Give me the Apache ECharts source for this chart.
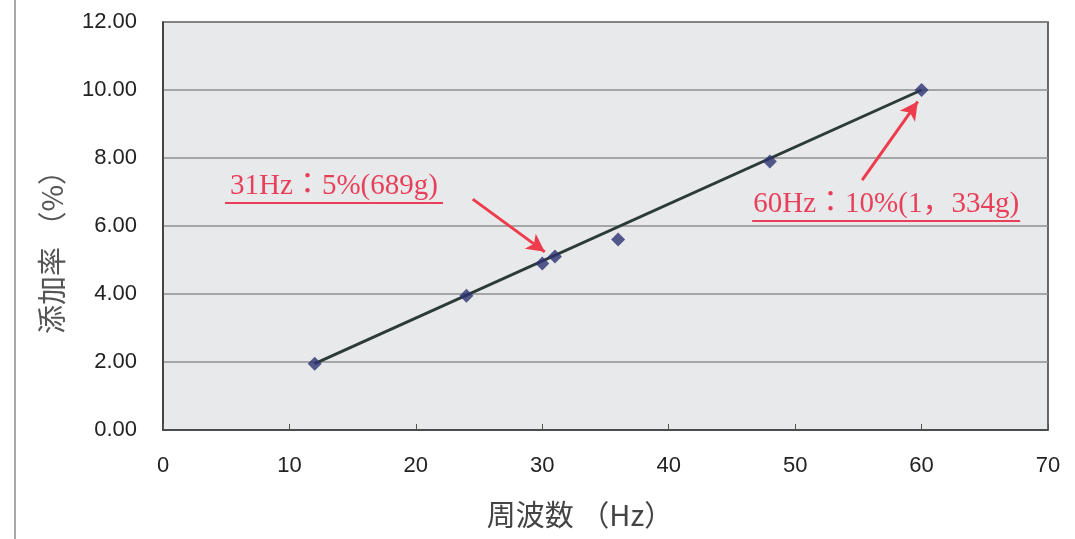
<!DOCTYPE html>
<html>
<head>
<meta charset="utf-8">
<script src="https://cdn.jsdelivr.net/npm/echarts@6/dist/echarts.min.js"></script>
<style>
  html, body { margin: 0; padding: 0; background: #ffffff; }
  #chart { width: 1075px; height: 539px; }
</style>
</head>
<body>
<div id="chart"></div>
<script>
// Measured points: frequency (Hz) vs. additive rate (%)
const freqHz = [12, 24, 30, 31, 36, 48, 60];
const ratePct = [1.95, 3.95, 4.9, 5.1, 5.6, 7.9, 10.0];

// Straight trend line through the measurements
const trendX = [12, 60];
const trendY = [1.95, 10.0];

// Axis ranges and tick steps
const xTicks = [0, 70, 10];
const yTicks = [0, 12, 2];

// Annotation texts, their underline spans and arrows (data coordinates)
const noteTexts = ['31Hz：5%(689g)', '60Hz：10%(1，334g)'];
const noteLines = [[[4.9, 6.68], [22.15, 6.68]], [[46.6, 6.15], [67.8, 6.15]]];
const noteArrows = [[[24.5, 6.79], [30.2, 5.24]], [[55.3, 7.35], [59.7, 9.66]]];

const red = '#e8405a';
const serif = "'Liberation Serif', 'Noto Sans CJK JP', serif";
const sans = "'Liberation Sans', Arial, sans-serif";

const chart = echarts.init(document.getElementById('chart'));

const markData = [];
noteLines.forEach((seg, i) => {
  markData.push([
    { coord: seg[0], label: { show: true, formatter: noteTexts[i] } },
    { coord: seg[1] }
  ]);
});
noteArrows.forEach(seg => {
  markData.push([
    { coord: seg[0], symbol: 'none', label: { show: false }, lineStyle: { width: 3, color: '#ee3c4c' } },
    { coord: seg[1], symbol: 'arrow', symbolSize: [14, 18] }
  ]);
});

chart.setOption({
  animation: false,
  backgroundColor: '#ffffff',
  grid: {
    left: 163, right: 27, top: 22, bottom: 109,
    show: true,
    backgroundColor: '#e7e9eb',
    borderColor: '#3a3a3a',
    borderWidth: 1.5
  },
  xAxis: {
    type: 'value',
    min: xTicks[0], max: xTicks[1], interval: xTicks[2],
    axisLine: { show: true, lineStyle: { color: '#3a3a3a', width: 1.5 } },
    axisTick: { show: true, inside: true, length: 6, lineStyle: { color: '#555' } },
    splitLine: { show: false },
    axisLabel: { color: '#222', fontSize: 22, margin: 25, fontFamily: sans }
  },
  yAxis: {
    type: 'value',
    min: yTicks[0], max: yTicks[1], interval: yTicks[2],
    axisLine: { show: true, lineStyle: { color: '#3a3a3a', width: 1.5 } },
    axisTick: { show: false },
    splitLine: { show: true, lineStyle: { color: '#8c8e90', width: 1.5 } },
    axisLabel: {
      color: '#222', fontSize: 22, margin: 26, fontFamily: sans,
      formatter: v => v.toFixed(2)
    }
  },
  graphic: [
    {
      type: 'line',
      shape: { x1: 15, y1: 0, x2: 15, y2: 539 },
      style: { stroke: '#a8a8a8', lineWidth: 2 }
    },
    {
      type: 'text',
      x: 52, y: 245,
      rotation: Math.PI / 2,
      style: {
        text: '添加率 （%）',
        fill: '#555',
        font: "29px 'Noto Sans CJK JP', sans-serif",
        textAlign: 'center',
        textVerticalAlign: 'middle'
      }
    },
    {
      type: 'text',
      x: 580, y: 515,
      style: {
        text: '周波数 （Hz）',
        fill: '#444',
        font: "29px 'Noto Sans CJK JP', sans-serif",
        textAlign: 'center',
        textVerticalAlign: 'middle'
      }
    }
  ],
  series: [
    {
      type: 'line',
      data: trendX.map((x, i) => [x, trendY[i]]),
      showSymbol: false,
      symbol: 'none',
      lineStyle: { color: '#2c3a38', width: 3 },
      z: 2,
      silent: true,
      markLine: {
        silent: true,
        symbol: 'none',
        lineStyle: { color: red, width: 2, type: 'solid' },
        label: {
          show: false,
          position: 'insideMiddleTop',
          distance: 2,
          color: red,
          fontSize: 29,
          fontFamily: serif
        },
        emphasis: { disabled: true },
        data: markData
      }
    },
    {
      type: 'scatter',
      data: freqHz.map((x, i) => [x, ratePct[i]]),
      symbol: 'diamond',
      symbolSize: 14,
      itemStyle: { color: '#2d3272' },
      z: 3
    }
  ]
});
</script>
</body>
</html>
